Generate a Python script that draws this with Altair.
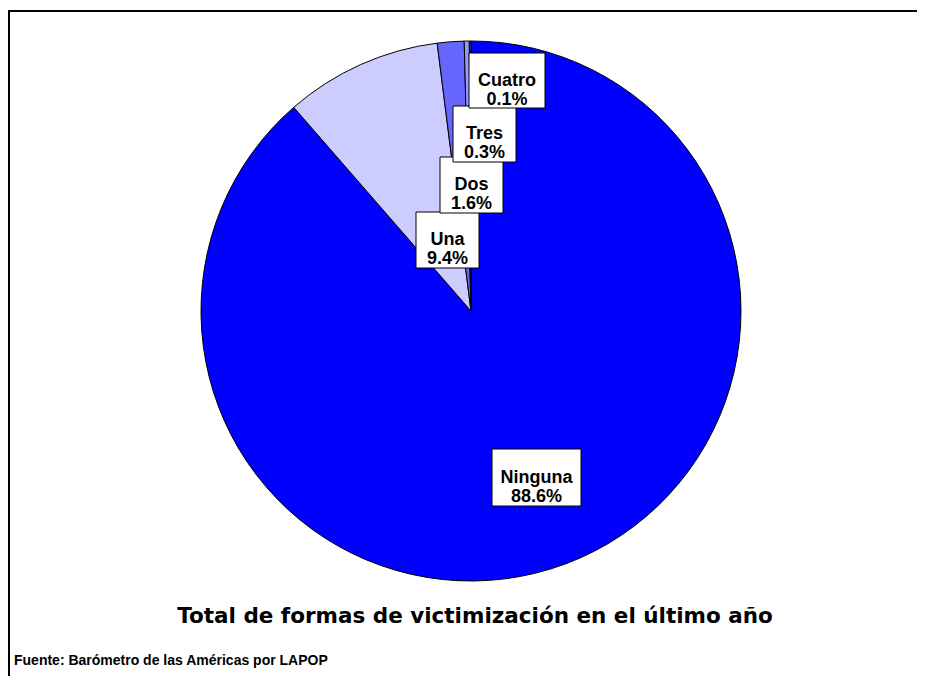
import altair as alt
import pandas as pd

# ---- data ----
categories = ["Ninguna", "Una", "Dos", "Tres", "Cuatro"]
values = [88.6, 9.4, 1.6, 0.3, 0.1]
colors = ["#0000FF", "#CCCCFF", "#6666FF", "#9999FF", "#3333CC"]

title_text = "Total de formas de victimización en el último año"
source_text = "Fuente: Barómetro de las Américas por LAPOP"

# ---- layout (pixels in the chart's own coordinates) ----
W, H = 909, 668
CX, CY, R = 463, 303, 270
# label boxes: left, top, right, bottom
label_boxes = [
    (484, 441, 573, 498),   # Ninguna
    (408, 204, 471, 260),   # Una
    (432, 149, 495, 205),   # Dos
    (445, 98, 508, 154),    # Tres
    (461, 45, 537, 100),    # Cuatro
]

df = pd.DataFrame({
    "cat": categories,
    "val": values,
    "idx": list(range(len(categories))),
})

pie = alt.Chart(df).mark_arc(
    x=CX, y=CY, outerRadius=R, stroke="black", strokeWidth=1
).encode(
    theta=alt.Theta("val:Q", stack=True),
    order=alt.Order("idx:Q"),
    color=alt.Color("cat:N", scale=alt.Scale(domain=categories, range=colors), legend=None),
)

lab = pd.DataFrame({
    "x1": [b[0] for b in label_boxes],
    "y1": [b[1] for b in label_boxes],
    "x2": [b[2] for b in label_boxes],
    "y2": [b[3] for b in label_boxes],
    "cx": [(b[0] + b[2]) / 2 for b in label_boxes],
    "cy": [(b[1] + b[3]) / 2 for b in label_boxes],
    "txt": [f"{c}\n{v:.1f}%" for c, v in zip(categories, values)],
})

boxes = alt.Chart(lab).mark_rect(fill="white", stroke="black", strokeWidth=1).encode(
    x=alt.X("x1:Q", scale=None), x2="x2:Q",
    y=alt.Y("y1:Q", scale=None), y2="y2:Q",
)
texts = alt.Chart(lab).mark_text(
    font="Liberation Sans", fontWeight="bold", fontSize=18, lineBreak="\n",
    lineHeight=19, align="center", baseline="middle", color="black",
).encode(
    x=alt.X("cx:Q", scale=None), y=alt.Y("cy:Q", scale=None), text="txt:N",
)

one = pd.DataFrame({"a": [0]})
title = alt.Chart(one).mark_text(
    text=title_text, font="DejaVu Sans", fontWeight="bold", fontSize=21.5,
    align="center", baseline="alphabetic", color="black",
).encode(x=alt.value(467), y=alt.value(615))
source = alt.Chart(one).mark_text(
    text=source_text, font="Liberation Sans", fontWeight="bold", fontSize=14,
    align="left", baseline="alphabetic", color="black",
).encode(x=alt.value(6), y=alt.value(657))

top_rule = alt.Chart(one).mark_rule(color="black", strokeWidth=2).encode(
    x=alt.value(0), x2=alt.value(W), y=alt.value(3)
)
left_rule = alt.Chart(one).mark_rule(color="black", strokeWidth=2).encode(
    x=alt.value(1), y=alt.value(2), y2=alt.value(H)
)

chart = alt.layer(pie, boxes, texts, title, source, top_rule, left_rule).properties(
    width=W, height=H,
    autosize=alt.AutoSizeParams(type="none"),
    padding=0,
    background="white",
).configure_view(stroke=None)

chart.save("out.html", embed_options={"renderer": "svg", "actions": False})
